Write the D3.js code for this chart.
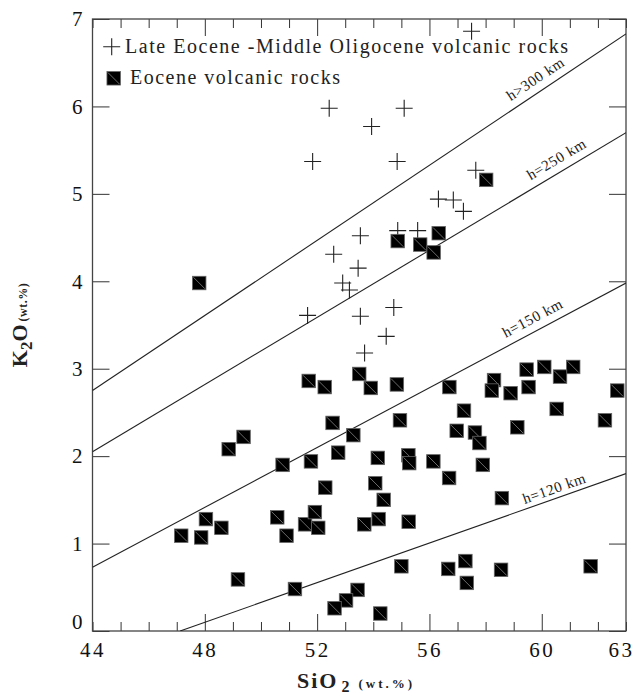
<!DOCTYPE html>
<html>
<head>
<meta charset="utf-8">
<script src="https://cdn.jsdelivr.net/npm/d3@7/dist/d3.min.js"></script>
<style>
  html, body { margin: 0; padding: 0; background: #fff; }
  svg { display: block; font-family: "Liberation Serif", "Times New Roman", Times, serif; }
</style>
</head>
<body>
<svg id="chart" width="633" height="696"></svg>
<script>
// ---- Data ----
// Late Eocene - Middle Oligocene volcanic rocks (crosses)
const lateSiO2 = [57.50, 52.43, 55.10, 53.94, 51.84, 54.85, 57.65, 56.32, 56.85, 57.21,
                  53.54, 54.87, 55.58, 52.59, 53.46, 52.91, 53.15, 51.66, 53.54, 54.73, 54.46, 53.69];
const lateK2O  = [6.86, 5.98, 5.98, 5.77, 5.37, 5.37, 5.27, 4.94, 4.93, 4.80,
                  4.52, 4.58, 4.58, 4.31, 4.15, 3.98, 3.90, 3.61, 3.60, 3.70, 3.37, 3.18];

// Eocene volcanic rocks (squares)
const eoSiO2 = [47.80, 49.38, 48.85, 48.04, 48.59, 47.16, 47.87, 49.18, 50.77, 51.78,
                50.58, 50.91, 51.57, 51.92, 52.04, 51.21, 51.70, 52.27, 53.50, 53.91,
                54.84, 56.71, 58.30, 58.22, 58.89, 59.46, 60.09, 61.12, 60.65, 59.53,
                62.69, 60.53, 57.23, 62.25, 59.13, 52.55, 54.95, 53.29, 56.97, 57.62,
                57.78, 52.75, 54.16, 55.25, 55.28, 56.14, 57.90, 58.58, 57.28, 55.00,
                56.67, 57.33, 58.55, 61.74, 52.29, 54.07, 54.37, 53.68, 54.19, 55.26,
                53.44, 53.03, 52.62, 54.25, 56.70, 58.02, 54.87, 55.67, 56.15, 56.33];
const eoK2O  = [3.98, 2.22, 2.08, 1.28, 1.18, 1.09, 1.07, 0.59, 1.90, 1.94,
                1.30, 1.09, 1.22, 1.36, 1.18, 0.48, 2.86, 2.79, 2.94, 2.78,
                2.82, 2.79, 2.87, 2.75, 2.72, 2.99, 3.02, 3.02, 2.91, 2.79,
                2.75, 2.54, 2.52, 2.41, 2.33, 2.38, 2.41, 2.24, 2.29, 2.27,
                2.15, 2.04, 1.98, 2.01, 1.92, 1.94, 1.90, 1.52, 0.80, 0.74,
                0.71, 0.55, 0.70, 0.74, 1.64, 1.69, 1.50, 1.22, 1.28, 1.25,
                0.47, 0.35, 0.26, 0.20, 1.75, 5.16, 4.46, 4.42, 4.33, 4.55];

// Depth reference lines
const depthLabels = ["h>300 km", "h=250 km", "h=150 km", "h=120 km"];
const depthX0 = [44, 44, 44, 47.12];
const depthY0 = [2.75, 2.05, 0.73, 0];
const depthX1 = [63, 63, 63, 63];
const depthY1 = [6.83, 5.70, 3.98, 1.80];
const depthLabelAt = [59.05, 59.75, 58.85, 59.45];

// Axis ticks
const xTicks = d3.range(44, 64);
const xMajor = [48, 52, 56, 60];
const xLabelTicks = [44, 48, 52, 56, 60, 63];
const yTicks = d3.range(0, 8);

const legendLabels = ["Late Eocene -Middle Oligocene volcanic rocks", "Eocene volcanic rocks"];

// ---- Layout ----
const FONT = "'Liberation Serif', 'Times New Roman', Times, serif";
const svg = d3.select("#chart");
const L = 92.5, R = 626, T = 19, B = 631;
const x = d3.scaleLinear().domain([44, 63]).range([L, R]);
const y = d3.scaleLinear().domain([0, 7]).range([B, T]);
const ink = "#222";

svg.append("defs").append("clipPath").attr("id", "plotclip")
  .append("rect").attr("x", L).attr("y", T).attr("width", R - L).attr("height", B - T);

// ---- Axes ----
const fontTick = 21;
const gB = svg.append("g").attr("transform", `translate(0,${B})`)
  .call(d3.axisBottom(x).tickValues(xTicks).tickSize(-17).tickPadding(11)
    .tickFormat(d => xLabelTicks.includes(d) ? d3.format("d")(d) : ""));
gB.selectAll(".tick line").attr("y2", d => xMajor.includes(d) ? -17 : -9);
gB.selectAll(".tick text").attr("font-size", fontTick).attr("letter-spacing", "2.5px")
  .attr("dx", d => d === 63 ? -5 : 0);

const gT = svg.append("g").attr("transform", `translate(0,${T})`)
  .call(d3.axisTop(x).tickValues(xTicks).tickSize(-17).tickFormat(""));
gT.selectAll(".tick line").attr("y2", d => xMajor.includes(d) ? 17 : 9);

const gL = svg.append("g").attr("transform", `translate(${L},0)`)
  .call(d3.axisLeft(y).tickValues(yTicks).tickSize(-17).tickPadding(10).tickFormat(d3.format("d")));
gL.selectAll(".tick text").attr("font-size", fontTick)
  .attr("dy", d => d === 0 ? "-0.1em" : "0.32em");

const gR = svg.append("g").attr("transform", `translate(${R},0)`)
  .call(d3.axisRight(y).tickValues(yTicks).tickSize(-17).tickFormat(""));

[gB, gT, gL, gR].forEach(g => {
  g.attr("font-family", FONT);
  g.select(".domain").remove();
  g.selectAll(".tick line").attr("stroke", "#333").attr("stroke-width", 1);
  g.selectAll(".tick text").attr("fill", "#111");
});

svg.append("rect").attr("x", L).attr("y", T).attr("width", R - L).attr("height", B - T)
  .attr("fill", "none").attr("stroke", "#444").attr("stroke-width", 1.3);

// ---- Depth lines ----
const plot = svg.append("g").attr("clip-path", "url(#plotclip)");
depthLabels.forEach((lab, i) => {
  plot.append("line")
    .attr("x1", x(depthX0[i])).attr("y1", y(depthY0[i]))
    .attr("x2", x(depthX1[i])).attr("y2", y(depthY1[i]))
    .attr("stroke", ink).attr("stroke-width", 1.1);
  const ang = Math.atan2(y(depthY1[i]) - y(depthY0[i]), x(depthX1[i]) - x(depthX0[i])) * 180 / Math.PI;
  const xv = depthLabelAt[i];
  const yv = depthY0[i] + (depthY1[i] - depthY0[i]) * (xv - depthX0[i]) / (depthX1[i] - depthX0[i]);
  svg.append("text")
    .attr("transform", `translate(${x(xv)},${y(yv)}) rotate(${ang})`)
    .attr("y", i === 3 ? -5 : -8)
    .attr("font-size", 15).attr("letter-spacing", "0.6px").attr("fill", ink)
    .text(lab);
});

// ---- Markers ----
const plusSize = 8.5;
const crosses = svg.append("g");
lateSiO2.forEach((s, i) => {
  const cx = x(s), cy = y(lateK2O[i]);
  crosses.append("path")
    .attr("d", `M${cx - plusSize},${cy}H${cx + plusSize}M${cx},${cy - plusSize}V${cy + plusSize}`)
    .attr("stroke", ink).attr("stroke-width", 1.1).attr("fill", "none");
});

const sq = 13.5;
function square(g, cx, cy) {
  g.append("rect").attr("x", cx - sq / 2).attr("y", cy - sq / 2).attr("width", sq).attr("height", sq)
    .attr("fill", "#000").attr("stroke", "#666").attr("stroke-width", 0.8);
  g.append("line").attr("x1", cx - sq / 2 + 1).attr("y1", cy - sq / 2 + 1)
    .attr("x2", cx + sq / 2 - 1).attr("y2", cy + sq / 2 - 1)
    .attr("stroke", "#9a9a9a").attr("stroke-width", 0.7);
}
const squares = svg.append("g");
eoSiO2.forEach((s, i) => square(squares, x(s), y(eoK2O[i])));

// ---- Legend ----
const lg = svg.append("g");
lg.append("path").attr("d", `M${111.7 - plusSize},46.7H${111.7 + plusSize}M111.7,${46.7 - plusSize}V${46.7 + plusSize}`)
  .attr("stroke", ink).attr("stroke-width", 1.1);
lg.append("text").attr("x", 125).attr("y", 53).attr("font-size", 20).attr("fill", ink)
  .attr("textLength", 443).attr("lengthAdjust", "spacing").text(legendLabels[0]);
square(lg, 113.7, 78.3);
lg.append("text").attr("x", 130).attr("y", 84).attr("font-size", 20).attr("fill", ink)
  .attr("textLength", 210).attr("lengthAdjust", "spacing").text(legendLabels[1]);

// ---- Axis titles ----
const yt = svg.append("text").attr("transform", "translate(27,325) rotate(-90)")
  .attr("text-anchor", "middle").attr("font-weight", "bold").attr("fill", ink);
yt.append("tspan").attr("font-size", 22).text("K");
yt.append("tspan").attr("font-size", 17).attr("dy", 5).text("2");
yt.append("tspan").attr("font-size", 22).attr("dy", -5).text("O");
yt.append("tspan").attr("font-size", 12).attr("dx", 3).attr("letter-spacing", "0.5px").text("(wt.%)");

const xt = svg.append("text").attr("x", 297).attr("y", 688)
  .attr("font-weight", "bold").attr("fill", ink);
xt.append("tspan").attr("font-size", 22).attr("letter-spacing", "2px").text("SiO");
xt.append("tspan").attr("font-size", 16).attr("dx", 3).attr("dy", 4).text("2");
xt.append("tspan").attr("font-size", 13).attr("dx", 9).attr("dy", -4).attr("letter-spacing", "3px").text("(wt.%)");
</script>
</body>
</html>
